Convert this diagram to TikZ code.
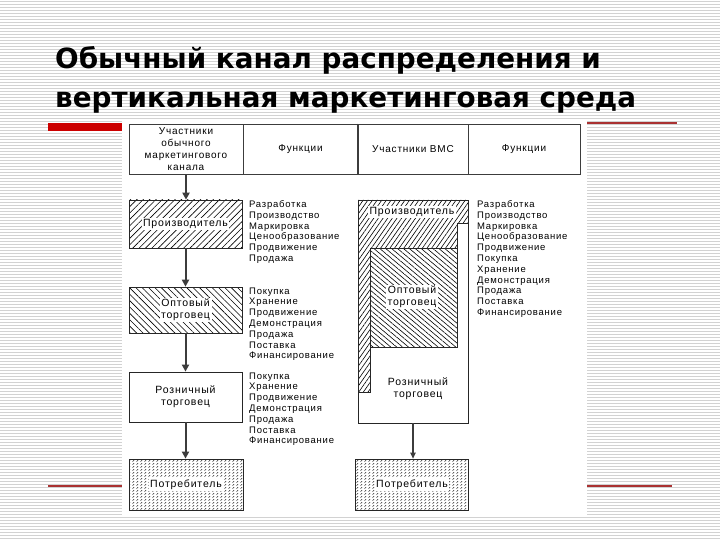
\documentclass[tikz,border=0pt]{standalone}
\usepackage{fontspec}
\setmainfont{Liberation Sans}
\newfontfamily\titlefont{DejaVu Sans}
\newfontfamily\fnfont{Liberation Sans}[LetterSpace=8]
\usetikzlibrary{patterns,patterns.meta,arrows.meta}
\definecolor{stripegray}{RGB}{210,210,210}
\definecolor{barred}{RGB}{204,0,0}
\definecolor{thinred}{RGB}{170,50,50}
\definecolor{linegray}{RGB}{60,60,60}
\pgfdeclarepattern{
  name=dashdots,
  type=uncolored,
  bottom left={\pgfpoint{0pt}{0pt}},
  top right={\pgfpoint{4pt}{3pt}},
  tile size={\pgfpoint{4pt}{3pt}},
  code={
    \pgfsetlinewidth{0.6pt}
    \pgfpathmoveto{\pgfpoint{0.6pt}{0.5pt}}
    \pgfpathlineto{\pgfpoint{2.6pt}{2.3pt}}
    \pgfusepath{stroke}
  }
}
\begin{document}
\begin{tikzpicture}[x=1pt,y=-1pt,
  stripe/.style={draw=stripegray,line width=0.8pt},
  title/.style={font=\titlefont\bfseries\fontsize{27.8}{32}\selectfont,inner sep=0pt,anchor=base west},
  hdr/.style={draw=linegray,line width=0.8pt,fill=white,inner sep=1pt,align=center,
    font=\fnfont\fontsize{10}{12}\selectfont},
  box/.style={draw=black!85,line width=0.8pt,inner sep=0pt},
  hatchA/.style={pattern={Lines[angle=45,distance=4.5pt,line width=0.6pt]},pattern color=black},
  hatchB/.style={pattern={Lines[angle=-45,distance=4.5pt,line width=0.6pt]},pattern color=black},
  hatchC/.style={pattern={Lines[angle=55,distance=3.8pt,line width=0.6pt]},pattern color=black},
  hatchD/.style={pattern={Lines[angle=-40,distance=3.8pt,line width=0.6pt]},pattern color=black},
  dotfill/.style={pattern=dashdots,pattern color=black!85},
  boxtext/.style={fill=white,inner sep=1.5pt,align=center,font=\fnfont\fontsize{10.5}{12}\selectfont},
  fnlist/.style={inner sep=0pt,anchor=north west,align=left,font=\fnfont\fontsize{9.5}{10.8}\selectfont},
  conn/.style={draw=linegray,line width=2pt,-{Triangle[length=7pt,width=7pt]}},
  connthin/.style={draw=linegray,line width=1.1pt,-{Triangle[length=6pt,width=5.5pt]}},
  redline/.style={draw=thinred,line width=1.2pt}
]
\useasboundingbox (0,0) rectangle (720,540);
\fill[white] (0,0) rectangle (720,540);
\foreach \yy in {1.5,4.5,...,540} \draw[stripe] (0,\yy) -- (720,\yy);

% title
\node[title] (t1) at (55,69) {Обычный канал распределения и};
\node[title] (t2) at (55,108) {вертикальная маркетинговая среда};

% decorations
\fill[barred] (48,123) rectangle (122,131);
\draw[redline] (587,123) -- (677,123);
\draw[redline] (48,486) -- (122,486);
\draw[redline] (587,486) -- (672,486);

% diagram background
\fill[white] (122,120) rectangle (587,517);

% header
\node[hdr,minimum width=114,minimum height=50] (h1) at (186,149) {Участники\\обычного\\маркетингового\\канала};
\node[hdr,minimum width=115,minimum height=50] (h2) at (300.5,149) {Функции};
\node[hdr,minimum width=110,minimum height=50] (h3) at (413,149) {Участники ВМС};
\node[hdr,minimum width=112,minimum height=50] (h4) at (524,149) {Функции};
\draw[linegray,line width=1.6pt] (h3.north west) -- (h3.south west);

% left column
\node[box,hatchA,minimum width=113,minimum height=48] (prodL) at (185.5,224) {};
\node[boxtext] (prodLt) at (prodL.center) {Производитель};
\node[box,hatchB,minimum width=113,minimum height=46] (wholeL) at (185.5,310) {};
\node[boxtext] (wholeLt) at (wholeL.center) {Оптовый\\торговец};
\node[box,fill=white,minimum width=113,minimum height=50,align=center,
  font=\fnfont\fontsize{10.5}{12}\selectfont] (retL) at (185.5,397) {Розничный\\торговец};
\node[box,dotfill,minimum width=114,minimum height=51] (consL) at (186,484.5) {};
\node[boxtext] (consLt) at (consL.center) {Потребитель};

\draw[conn] (h1.south) -- (h1.south |- prodL.north);
\draw[conn] (prodL.south) -- (wholeL.north);
\draw[conn] (wholeL.south) -- (retL.north);
\draw[conn] (retL.south) -- (retL.south |- consL.north);

% left functions
\node[fnlist] (fL1) at (249,200.4) {Разработка\\Производство\\Маркировка\\Ценообразование\\Продвижение\\Продажа};
\node[fnlist] (fL2) at (249,287.4) {Покупка\\Хранение\\Продвижение\\Демонстрация\\Продажа\\Поставка\\Финансирование};
\node[fnlist] (fL3) at (249,372.4) {Покупка\\Хранение\\Продвижение\\Демонстрация\\Продажа\\Поставка\\Финансирование};

% right column (VMS)
\node[box,fill=white,minimum width=110,minimum height=223] (vms) at (413,311.5) {};
\draw[box,hatchC] (358,200) -- (468,200) -- (468,223) -- (457,223) -- (457,248)
  -- (370,248) -- (370,392) -- (358,392) -- cycle;
\node[box,hatchD,minimum width=87,minimum height=99] (wholeR) at (413.5,297.5) {};
\node[boxtext] (prodRt) at (412,212) {Производитель};
\node[boxtext] (wholeRt) at (412,297) {Оптовый\\торговец};
\node[boxtext] (retRt) at (418,389) {Розничный\\торговец};
\node[box,dotfill,minimum width=113,minimum height=51] (consR) at (412,484.5) {};
\node[boxtext] (consRt) at (consR.center) {Потребитель};
\draw[connthin] (vms.south) -- (vms.south |- consR.north);

\node[fnlist] (fR) at (477,200.4) {Разработка\\Производство\\Маркировка\\Ценообразование\\Продвижение\\Покупка\\Хранение\\Демонстрация\\Продажа\\Поставка\\Финансирование};
\end{tikzpicture}
\end{document}
